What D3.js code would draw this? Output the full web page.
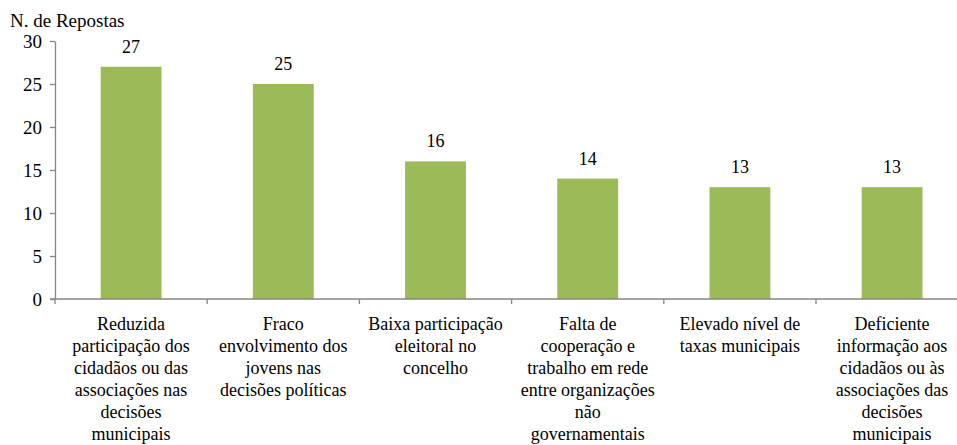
<!DOCTYPE html>
<html><head><meta charset="utf-8">
<script src="https://cdn.jsdelivr.net/npm/d3@7"></script>
</head><body style="margin:0">
<svg id="c" width="957" height="445" font-family="Times New Roman" style="font-family:'Times New Roman'"></svg>
<script>
const categories = [
  ["Reduzida","participação dos","cidadãos ou das","associações nas","decisões","municipais"],
  ["Fraco","envolvimento dos","jovens nas","decisões políticas"],
  ["Baixa participação","eleitoral no","concelho"],
  ["Falta de","cooperação e","trabalho em rede","entre organizações","não","governamentais"],
  ["Elevado nível de","taxas municipais"],
  ["Deficiente","informação aos","cidadãos ou às","associações das","decisões","municipais"]
];
const values = [27, 25, 16, 14, 13, 13];
const yTicks = [0, 5, 10, 15, 20, 25, 30];
const yTitle = "N. de Repostas";

(function(){
const FONT = "'Times New Roman'";
const svg = d3.select("#c");
const mLeft = 55, mBottom = 299, mTop = 41;
const step = 152.2;
const x = d3.scaleBand().domain(d3.range(categories.length))
  .range([mLeft, mLeft + step * categories.length]).paddingInner(0.6).paddingOuter(0.3);
const y = d3.scaleLinear().domain([0, 30]).range([mBottom, mTop]);
const axisColor = "#868686";

svg.selectAll("rect.bar").data(values).enter().append("rect")
  .attr("x", (d, i) => x(i)).attr("y", d => y(d))
  .attr("width", x.bandwidth()).attr("height", d => y(0) - y(d))
  .attr("fill", "#9BBB59");

svg.selectAll("text.val").data(values).enter().append("text")
  .attr("x", (d, i) => x(i) + x.bandwidth() / 2).attr("y", d => y(d) - 14)
  .attr("text-anchor", "middle").attr("font-family", "Times New Roman").style("font-family", FONT).style("font-size", "18px").attr("fill", "#000").text(d => d);

const yAxis = svg.append("g").attr("transform", `translate(${mLeft},0)`)
  .call(d3.axisLeft(y).tickValues(yTicks).tickSize(5).tickPadding(8).tickSizeOuter(0));
yAxis.attr("font-family", "Times New Roman").attr("font-size", null);
yAxis.select(".domain").attr("stroke", axisColor).attr("stroke-width", 1.3);
yAxis.selectAll(".tick line").attr("stroke", axisColor).attr("stroke-width", 1.3);
yAxis.selectAll(".tick text").style("font-size", "19px").style("font-family", FONT).attr("fill", "#000");

const xEnd = mLeft + step * categories.length;
svg.append("line").attr("x1", mLeft - 5).attr("x2", xEnd).attr("y1", mBottom).attr("y2", mBottom)
  .attr("stroke", axisColor).attr("stroke-width", 1.3);
const bounds = d3.range(categories.length + 1).map(i => mLeft + step * i);
svg.selectAll("line.xt").data(bounds).enter().append("line")
  .attr("x1", d => d).attr("x2", d => d).attr("y1", mBottom).attr("y2", mBottom + 5)
  .attr("stroke", axisColor).attr("stroke-width", 1.3);

categories.forEach((lines, i) => {
  const cx = x(i) + x.bandwidth() / 2;
  const t = svg.append("text").attr("x", cx).attr("y", 330)
    .attr("text-anchor", "middle").attr("font-family", "Times New Roman").style("font-family", FONT).style("font-size", "18px").attr("fill", "#000");
  lines.forEach((l, j) => t.append("tspan").attr("x", cx).attr("dy", j ? 22 : 0).text(l));
});

svg.append("text").attr("x", 10).attr("y", 27).attr("font-family", "Times New Roman").style("font-family", FONT).style("font-size", "19px").attr("fill", "#000").text(yTitle);
})();
</script>
</body></html>
